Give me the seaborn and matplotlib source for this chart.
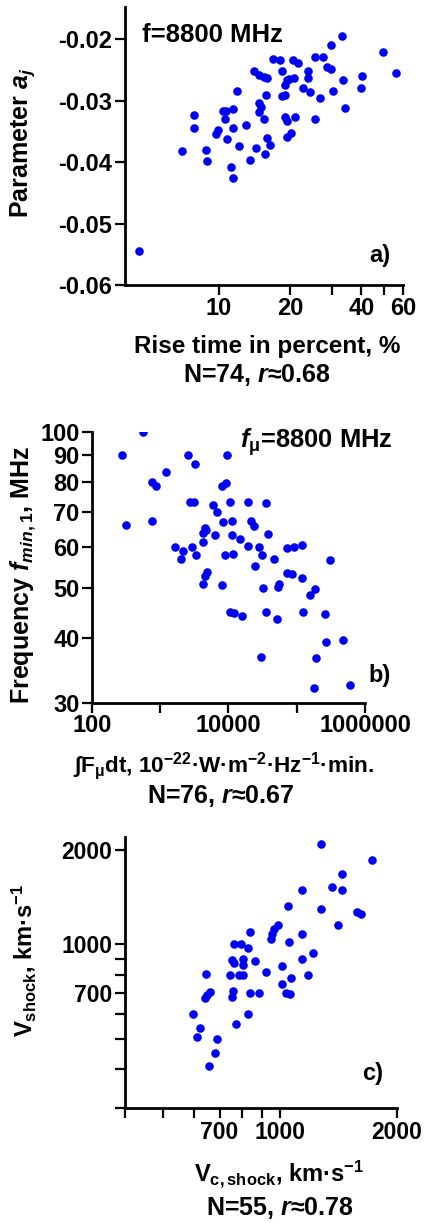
import matplotlib
matplotlib.use("Agg")
import matplotlib.pyplot as plt
import seaborn as sns
import pandas as pd
from matplotlib.ticker import FixedLocator, FixedFormatter, NullLocator

# ---------------- data ----------------
# a) rise time (%) vs parameter a_j, f = 8800 MHz
rise_pct = [7.0, 7.8, 7.85, 8.8, 8.9, 9.7, 9.93, 10.4, 10.7, 10.6, 11.5, 11.4, 10.8, 11.2, 11.4,
            11.9, 12.1, 13.0, 13.5, 14.1, 14.4, 14.8, 15.5, 16.0, 14.7, 15.0, 14.8, 15.5, 15.85, 15.6,
            15.96, 16.5, 16.9, 18.1, 18.4, 18.4, 19.0, 19.0, 19.3, 19.7, 19.0, 19.3, 20.9, 19.3, 20.2,
            20.6, 21.6, 20.8, 22.7, 23.8, 23.8, 24.2, 25.5, 27.6, 25.5, 26.7, 28.5, 29.8, 29.8, 30.2,
            33.0, 33.4, 34.1, 39.9, 40.4, 49.2, 56.2, 4.57]
param_a = [-0.0382, -0.0323, -0.0345, -0.0381, -0.0398, -0.0355, -0.0348, -0.0316, -0.0316, -0.0329,
           -0.0313, -0.0345, -0.0362, -0.0408, -0.0426, -0.0285, -0.0374, -0.0339, -0.0396, -0.0252,
           -0.0377, -0.0258, -0.0262, -0.0263, -0.0303, -0.0311, -0.0318, -0.0330, -0.0291, -0.0386,
           -0.0360, -0.0372, -0.0232, -0.0234, -0.0252, -0.0293, -0.0291, -0.0274, -0.0267, -0.0264,
           -0.0326, -0.0333, -0.0327, -0.0359, -0.0352, -0.0234, -0.0238, -0.0263, -0.0280, -0.0251,
           -0.0263, -0.0286, -0.0229, -0.0229, -0.0329, -0.0296, -0.0245, -0.0248, -0.0210, -0.0284,
           -0.0195, -0.0266, -0.0312, -0.0279, -0.0260, -0.0220, -0.0255, -0.0544]

# b) fluence vs frequency f_min,1
fluence = [565, 272, 2577, 3228, 9617, 1202, 750, 858, 7940, 9180, 2728, 3155, 10400, 19300, 35800,
           5990, 6850, 315, 766, 8400, 11400, 21400, 23900, 4530, 4280, 4680, 6340, 11140, 38300,
           14700, 4280, 19100, 28000, 1644, 2890, 2180, 71300, 92100, 120500, 2013, 3342, 8890,
           11750, 31300, 46400, 307000, 24400, 4790, 4530, 4280, 7940, 32400, 55400, 54000, 71300,
           86100, 118000, 185000, 156000, 10500, 12200, 15600, 35400, 51900, 125000, 259000,
           268000, 482000, 29900, 190000, 179000, 603000]
f_min = [100, 90.2, 90, 86.5, 90, 83.7, 80.1, 78.5, 78.5, 79.7, 73.3, 73.3, 73.3, 73.3, 73,
         72.4, 70.1, 66.1, 67.4, 67.1, 67.4, 67.4, 65.8, 65.2, 63.9, 64.7, 63.2, 63.2, 63.5,
         62.1, 61.3, 60.3, 60, 60, 60, 58.8, 59.6, 60, 60.4, 57.0, 57.9, 57.9,
         58.2, 57.9, 57, 56.6, 55.2, 53.7, 52.7, 50.8, 50.7, 50.1, 51.0, 50.3, 53.4,
         53.3, 52.2, 49.9, 48.4, 45.0, 44.7, 44.2, 45.0, 43.5, 45.0, 44.6,
         39.4, 39.8, 36.9, 36.7, 32.1, 32.5]

# c) V_c,shock vs V_shock
v_c_shock = [1276, 1729, 1444, 1362, 1444, 1143, 1051, 1276, 1583, 1621, 1408, 991, 968, 953, 949,
             839, 1143, 1054, 761, 794, 828, 1216, 754, 802, 803, 761, 861, 1140, 1010, 919,
             746, 784, 802, 647, 1181, 1071, 1010, 758, 754, 839, 886, 1040, 1064, 661, 651, 641,
             598, 828, 773, 622, 614, 690, 681, 658]
v_shock = [2080, 1849, 1677, 1521, 1493, 1493, 1324, 1299, 1267, 1246, 1149, 1149, 1114, 1081, 1037,
           1094, 1076, 1017, 1000, 1000, 969, 939, 889, 896, 857, 872, 885, 896, 851, 813,
           797, 797, 797, 801, 797, 778, 746, 711, 677, 697, 697, 697, 692, 705, 688, 672,
           599, 599, 555, 540, 507, 499, 449, 408]

# ---------------- style ----------------
sns.set_style("ticks")
plt.rcParams.update({
    "font.family": ["Liberation Sans", "DejaVu Sans"],
    "font.weight": "bold",
    "text.color": "black",
    "axes.labelcolor": "black",
    "mathtext.fontset": "custom",
    "mathtext.rm": "Liberation Sans",
    "mathtext.it": "Liberation Sans:italic",
    "mathtext.bf": "Liberation Sans:bold",
    "mathtext.bfit": "Liberation Sans:bold:italic",
    "axes.linewidth": 2.0,
    "axes.edgecolor": "black",
    "xtick.color": "black",
    "ytick.color": "black",
    "xtick.labelcolor": "black",
    "ytick.labelcolor": "black",
})
BLUE = "#0000f0"

fig = plt.figure(figsize=(4.24, 12.23), dpi=100)
ax_a = fig.add_axes([0.2948, 0.76697, 0.6557, 0.22755])
ax_b = fig.add_axes([0.21698, 0.42494, 0.64387, 0.22208])
ax_c = fig.add_axes([0.29481, 0.09379, 0.6415, 0.22207])


def style(ax, ticklen, fs):
    sns.despine(ax=ax)
    ax.spines["left"].set_linewidth(2.0)
    ax.spines["bottom"].set_linewidth(2.0)
    ax.tick_params(which="both", direction="out", length=ticklen, width=1.6,
                   labelsize=fs, pad=2, colors="black")
    for lab in ax.get_xticklabels() + ax.get_yticklabels():
        lab.set_fontweight("bold")


# ---- panel a ----
df_a = pd.DataFrame({"rise": rise_pct, "a": param_a})
sns.scatterplot(data=df_a, x="rise", y="a", ax=ax_a, color=BLUE, s=38, linewidth=0, legend=False)
ax_a.set_xscale("log")
ax_a.set_xlim(4, 60)
ax_a.set_ylim(-0.06, -0.0147)
ax_a.xaxis.set_major_locator(FixedLocator([10, 20, 30, 40, 50, 60]))
ax_a.xaxis.set_major_formatter(FixedFormatter(["10", "20", "", "40", "", "60"]))
ax_a.xaxis.set_minor_locator(NullLocator())
ax_a.yaxis.set_major_locator(FixedLocator([-0.06, -0.05, -0.04, -0.03, -0.02]))
ax_a.yaxis.set_major_formatter(FixedFormatter(["-0.06", "-0.05", "-0.04", "-0.03", "-0.02"]))
style(ax_a, 7, 17)
ax_a.set_xlabel("Rise time in percent, %", fontsize=17.5, fontweight="bold", va="baseline")
ax_a.xaxis.set_label_coords(0.511, -0.244)
ax_a.set_ylabel("Parameter $\\mathit{a}_{\\mathit{j}}$", fontsize=18, fontweight="bold", va="center")
ax_a.yaxis.set_label_coords(-0.367, 0.51)
ax_a.text(0.475, -0.3485, "N=74, $\\mathbfit{r}$≈0.68", transform=ax_a.transAxes, ha="center",
          va="baseline", fontsize=18, fontweight="bold", clip_on=False)
ax_a.text(0.061, 0.874, "f=8800 MHz", transform=ax_a.transAxes, ha="left", va="baseline",
          fontsize=18.5, fontweight="bold")
ax_a.text(0.953, 0.0837, "a)", transform=ax_a.transAxes, ha="right", va="baseline",
          fontsize=17, fontweight="bold")

# ---- panel b ----
df_b = pd.DataFrame({"flu": fluence, "f": f_min})
sns.scatterplot(data=df_b, x="flu", y="f", ax=ax_b, color=BLUE, s=38, linewidth=0, legend=False)
ax_b.set_xscale("log")
ax_b.set_yscale("log")
ax_b.set_xlim(100, 1e6)
ax_b.set_ylim(30, 100)
ax_b.xaxis.set_major_locator(FixedLocator([1e2, 1e3, 1e4, 1e5, 1e6]))
ax_b.xaxis.set_major_formatter(FixedFormatter(["100", "", "10000", "", "1000000"]))
ax_b.xaxis.set_minor_locator(NullLocator())
b_yt = [30, 40, 50, 60, 70, 80, 90, 100]
ax_b.yaxis.set_major_locator(FixedLocator(b_yt))
ax_b.yaxis.set_major_formatter(FixedFormatter([str(v) for v in b_yt]))
ax_b.yaxis.set_minor_locator(NullLocator())
style(ax_b, 7, 17)
ax_b.tick_params(axis="x", pad=0.5)
ax_b.set_xlabel("∫F$_{\\mathrm{μ}}$dt, 10$^{\\mathrm{-22}}$·W·m$^{\\mathrm{-2}}$·Hz$^{\\mathrm{-1}}$·min.",
                fontsize=16.2, fontweight="bold", va="baseline")
ax_b.xaxis.set_label_coords(0.4835, -0.253)
ax_b.set_ylabel("Frequency $\\mathbfit{f}_{\\mathit{min,1}}$, MHz", fontsize=18,
                fontweight="bold", va="center")
ax_b.yaxis.set_label_coords(-0.2527, 0.472)
ax_b.text(0.4725, -0.367, "N=76, $\\mathbfit{r}$≈0.67", transform=ax_b.transAxes, ha="center",
          va="baseline", fontsize=18, fontweight="bold", clip_on=False)
ax_b.text(0.542, 0.94, "$\\mathbfit{f}_{\\mathrm{μ}}$=8800 MHz", transform=ax_b.transAxes, ha="left",
          va="baseline", fontsize=18.4, fontweight="bold", clip_on=False)
ax_b.text(1.011, 0.0795, "b)", transform=ax_b.transAxes, ha="left", va="baseline",
          fontsize=17, fontweight="bold", clip_on=False)

# ---- panel c ----
df_c = pd.DataFrame({"vc": v_c_shock, "vs": v_shock})
sns.scatterplot(data=df_c, x="vc", y="vs", ax=ax_c, color=BLUE, s=38, linewidth=0, legend=False)
ax_c.set_xscale("log")
ax_c.set_yscale("log")
ax_c.set_xlim(400, 2000)
ax_c.set_ylim(300, 2200)
c_xt = [400, 500, 600, 700, 800, 900, 1000, 2000]
ax_c.xaxis.set_major_locator(FixedLocator(c_xt))
ax_c.xaxis.set_major_formatter(FixedFormatter(["", "", "", "700", "", "", "1000", "2000"]))
ax_c.xaxis.set_minor_locator(NullLocator())
c_yt = [300, 400, 500, 600, 700, 800, 900, 1000, 2000]
ax_c.yaxis.set_major_locator(FixedLocator(c_yt))
ax_c.yaxis.set_major_formatter(FixedFormatter(["", "", "", "", "700", "", "", "1000", "2000"]))
ax_c.yaxis.set_minor_locator(NullLocator())
style(ax_c, 7, 16.5)
ax_c.set_xlabel("V$_{\\mathbf{c,shock}}$, km·s$^{\\mathrm{-1}}$", fontsize=17,
                fontweight="bold", va="baseline")
ax_c.xaxis.set_label_coords(0.567, -0.271)
ax_c.set_ylabel("V$_{\\mathrm{shock}}$, km·s$^{\\mathrm{-1}}$", fontsize=17,
                fontweight="bold", va="center")
ax_c.yaxis.set_label_coords(-0.375, 0.546)
ax_c.text(0.570, -0.393, "N=55, $\\mathbfit{r}$≈0.78", transform=ax_c.transAxes, ha="center",
          va="baseline", fontsize=18, fontweight="bold", clip_on=False)
ax_c.text(0.872, 0.104, "c)", transform=ax_c.transAxes, ha="left", va="baseline",
          fontsize=17, fontweight="bold", clip_on=False)

fig.savefig("out.png", dpi=100)
